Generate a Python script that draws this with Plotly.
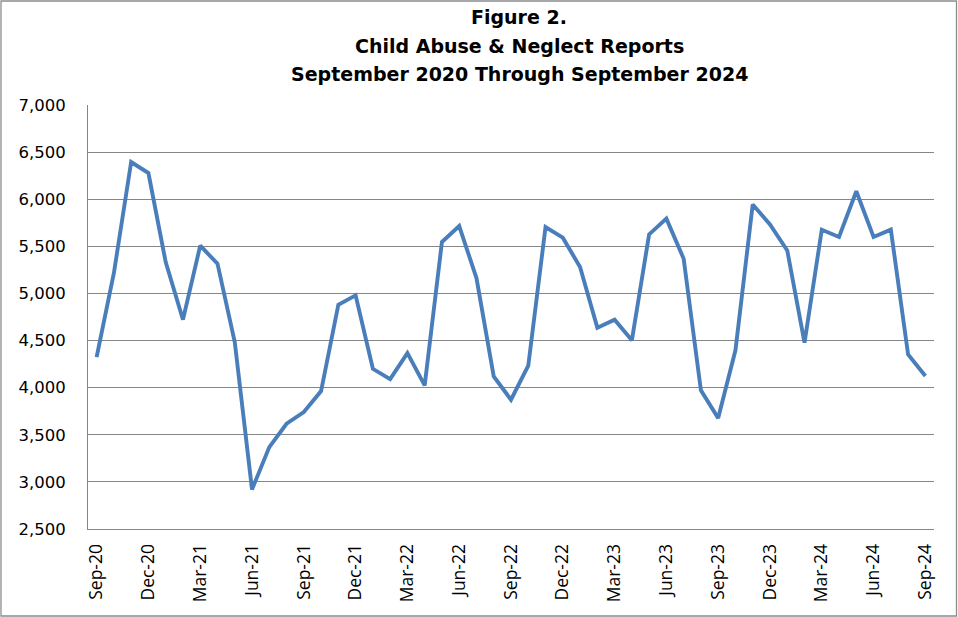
import plotly.graph_objects as go

months = ["Sep-20","Oct-20","Nov-20","Dec-20","Jan-21","Feb-21","Mar-21","Apr-21","May-21","Jun-21",
          "Jul-21","Aug-21","Sep-21","Oct-21","Nov-21","Dec-21","Jan-22","Feb-22","Mar-22","Apr-22",
          "May-22","Jun-22","Jul-22","Aug-22","Sep-22","Oct-22","Nov-22","Dec-22","Jan-23","Feb-23",
          "Mar-23","Apr-23","May-23","Jun-23","Jul-23","Aug-23","Sep-23","Oct-23","Nov-23","Dec-23",
          "Jan-24","Feb-24","Mar-24","Apr-24","May-24","Jun-24","Jul-24","Aug-24","Sep-24"]
reports = [4325, 5217, 6395, 6278, 5333, 4722, 5507, 5316, 4484, 2920,
           3369, 3617, 3741, 3964, 4881, 4980, 4200, 4091, 4367, 4024,
           5546, 5715, 5163, 4120, 3872, 4233, 5705, 5592, 5280, 4637,
           4722, 4502, 5627, 5794, 5369, 3971, 3677, 4396, 5943, 5733,
           5457, 4477, 5677, 5599, 6084, 5599, 5677, 4353, 4123]
tick_labels = months[::3]
y_ticks = list(range(2500, 7001, 500))
title_lines = ["Figure 2.", "Child Abuse &amp; Neglect Reports",
               "September 2020 Through September 2024"]

fig = go.Figure(go.Scatter(
    x=months, y=reports, mode="lines",
    line=dict(color="#4a7ebb", width=3.9),
    hoverinfo="x+y", showlegend=False))

L, R, T, B = 88, 24, 105, 88
W, H = 958, 617
pw, ph = W - L - R, H - T - B

title_y = [17, 46, 74]
annotations = [dict(
    text=f"<b>{t}</b>", xref="paper", yref="paper",
    x=(519 - L) / pw, y=1 + (T - yc) / ph,
    xanchor="center", yanchor="middle", showarrow=False,
    font=dict(family="DejaVu Sans", size=19, color="black"))
    for t, yc in zip(title_lines, title_y)]

fig.update_layout(
    width=W, height=H,
    margin=dict(l=L, r=R, t=T, b=B),
    paper_bgcolor="white", plot_bgcolor="white",
    annotations=annotations,
    shapes=[dict(type="rect", xref="paper", yref="paper",
                 x0=(-L + 1) / pw, x1=1 + (R - 1.5) / pw,
                 y0=-(B - 1) / ph, y1=1 + (T - 1) / ph,
                 line=dict(color="#8c8c8c", width=1.3), fillcolor="rgba(0,0,0,0)", layer="below")],
    xaxis=dict(
        type="category", range=[-0.5, len(months) - 0.5],
        tickmode="array", tickvals=tick_labels, ticktext=tick_labels,
        tickangle=-90, tickfont=dict(family="Open Sans", size=17.5, color="black"),
        showgrid=False, ticks="outside", ticklen=7, tickcolor="rgba(0,0,0,0)",
        showline=True, linecolor="#868686", linewidth=1, zeroline=False, fixedrange=True),
    yaxis=dict(
        range=[2500, 7000], tickmode="array", tickvals=y_ticks,
        ticktext=[f"{v:,}" for v in y_ticks],
        tickfont=dict(family="DejaVu Sans", size=16.5, color="black"),
        showgrid=True, gridcolor="#868686", gridwidth=1,
        showline=True, linecolor="#868686", linewidth=1, zeroline=False,
        ticks="outside", ticklen=18, tickcolor="rgba(0,0,0,0)", fixedrange=True),
)

fig.write_html("out.html", config={"displayModeBar": False},
               post_script="document.body.style.margin='0';")
